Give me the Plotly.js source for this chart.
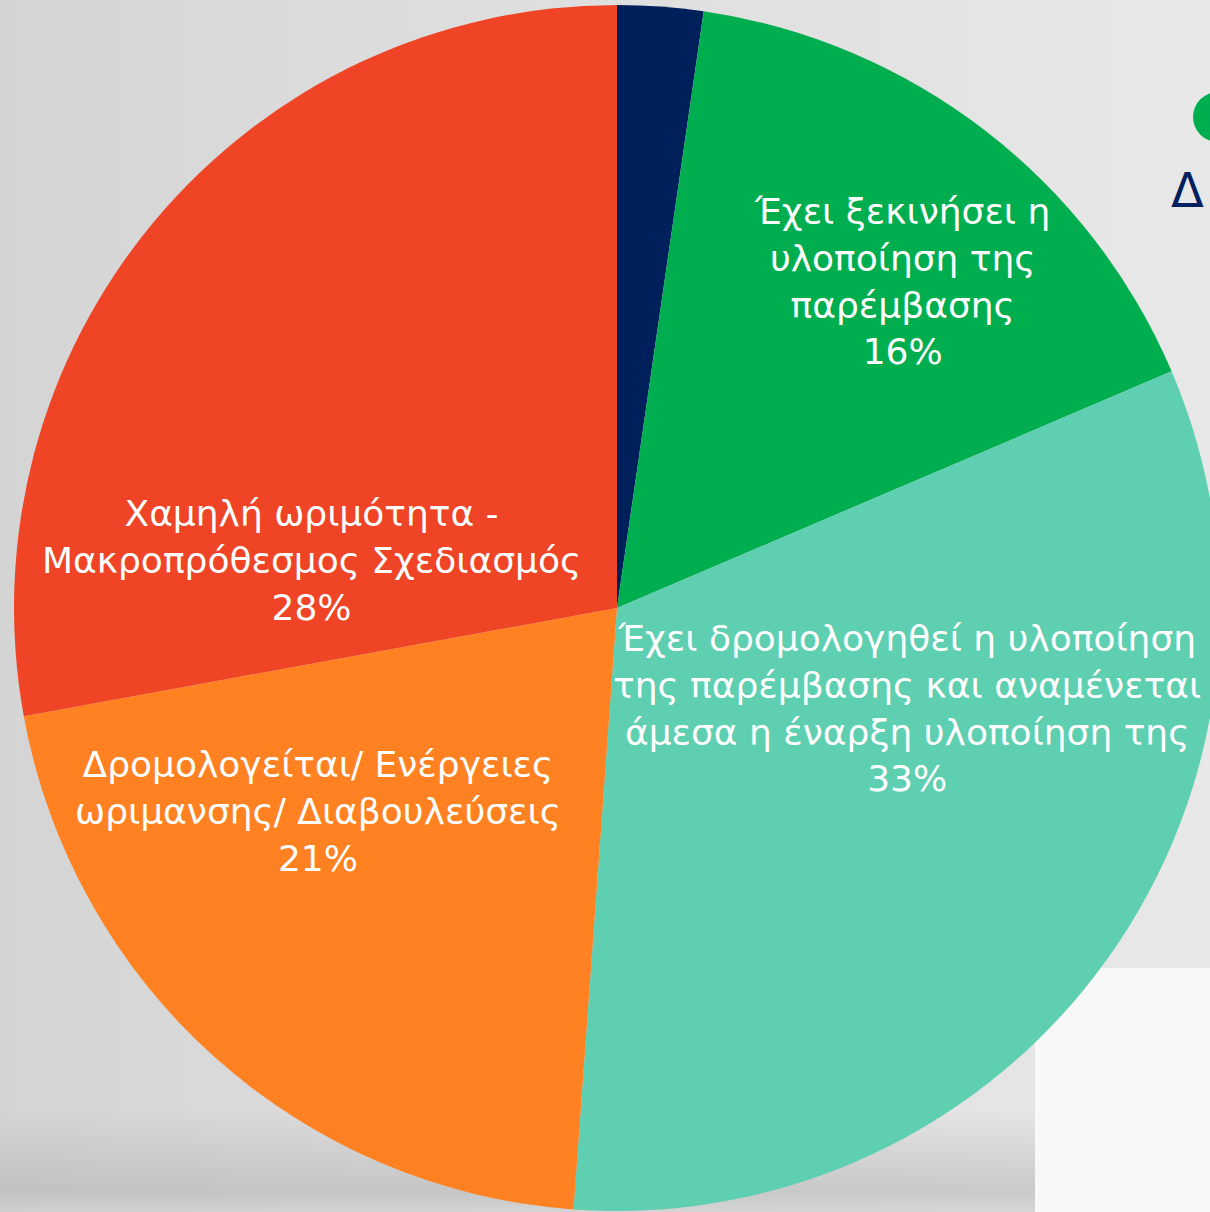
<!DOCTYPE html>
<html>
<head>
<meta charset="utf-8">
<script src="https://cdn.plot.ly/plotly-3.0.1.min.js"></script>
<style>
  html, body { margin:0; padding:0; width:1210px; height:1212px; overflow:hidden; }
  body { background: linear-gradient(90deg, #d4d4d4 0%, #dcdcdc 30%, #e2e2e2 70%, #e8e8e8 100%); position:relative; }
  #floor { position:absolute; left:0; top:1110px; width:1210px; height:102px;
           background: linear-gradient(180deg, rgba(200,200,200,0) 0%, rgba(175,175,175,0.5) 80%, rgba(205,205,205,0.6) 100%); }
  #wall { position:absolute; left:1035px; top:968px; width:175px; height:244px; background:#f8f8f8; }
  #chart { position:absolute; left:0; top:0; width:1240px; height:1212px; }
</style>
</head>
<body>
<div id="floor"></div>
<div id="wall"></div>
<div id="chart"></div>
<script>
// Data (clockwise from 12 o'clock)
const labels = [
  "Άλλο",
  "Έχει ξεκινήσει η<br>υλοποίηση της<br>παρέμβασης",
  "Έχει δρομολογηθεί η υλοποίηση<br>της παρέμβασης και αναμένεται<br>άμεσα η έναρξη υλοποίηση της",
  "Δρομολογείται/ Ενέργειες<br>ωριμανσης/ Διαβουλεύσεις",
  "Χαμηλή ωριμότητα -<br>Μακροπρόθεσμος Σχεδιασμός"
];
const values = [2.3, 16.3, 32.6, 21.0, 27.9];
const colors = ["#00205b", "#00ae50", "#5ecfb1", "#ff8121", "#f04426"];
const showLabel = [false, true, true, true, true];

const W = 1240, H = 1212;
const cx = 617, cy = 608, R = 603;

const total = values.reduce((a, b) => a + b, 0);

// label anchor positions (pixels) for each slice label block
const labelPos = [null, [902, 281], [907, 708], [318, 811], [311, 560]];

const annotations = [];
labels.forEach((lab, i) => {
  if (!showLabel[i]) return;
  const pct = Math.round(values[i] / total * 100);
  annotations.push({
    xref: "paper", yref: "paper",
    x: labelPos[i][0] / W, y: 1 - labelPos[i][1] / H,
    xanchor: "center", yanchor: "middle",
    text: lab + "<br>" + pct + "%",
    showarrow: false, align: "center",
    font: { family: "DejaVu Sans, sans-serif", size: 36, color: "#ffffff" }
  });
});

// partially visible slide heading at the right edge
annotations.push({
  xref: "paper", yref: "paper", x: 1169 / W, y: 1 - 190 / H,
  xanchor: "left", yanchor: "middle", showarrow: false,
  text: "Δ", font: { family: "DejaVu Sans, sans-serif", size: 48, color: "#002060" }
});

const data = [{
  type: "pie",
  labels: labels,
  values: values,
  sort: false,
  direction: "clockwise",
  rotation: 0,
  marker: { colors: colors, line: { width: 0 } },
  textinfo: "none",
  hoverinfo: "label+percent",
  showlegend: false,
  domain: { x: [(cx - R) / W, (cx + R) / W], y: [(H - cy - R) / H, (H - cy + R) / H] }
}];

const layout = {
  width: W, height: H,
  margin: { l: 0, r: 0, t: 0, b: 0 },
  paper_bgcolor: "rgba(0,0,0,0)",
  plot_bgcolor: "rgba(0,0,0,0)",
  showlegend: false,
  annotations: annotations,
  shapes: [{
    type: "circle", xref: "paper", yref: "paper",
    x0: 1193 / W, x1: 1243 / W, y0: 1 - 142 / H, y1: 1 - 92 / H,
    fillcolor: "#00ae50", line: { width: 0 }, layer: "below"
  }]
};

Plotly.newPlot("chart", data, layout, { displayModeBar: false, staticPlot: true });
</script>
</body>
</html>
